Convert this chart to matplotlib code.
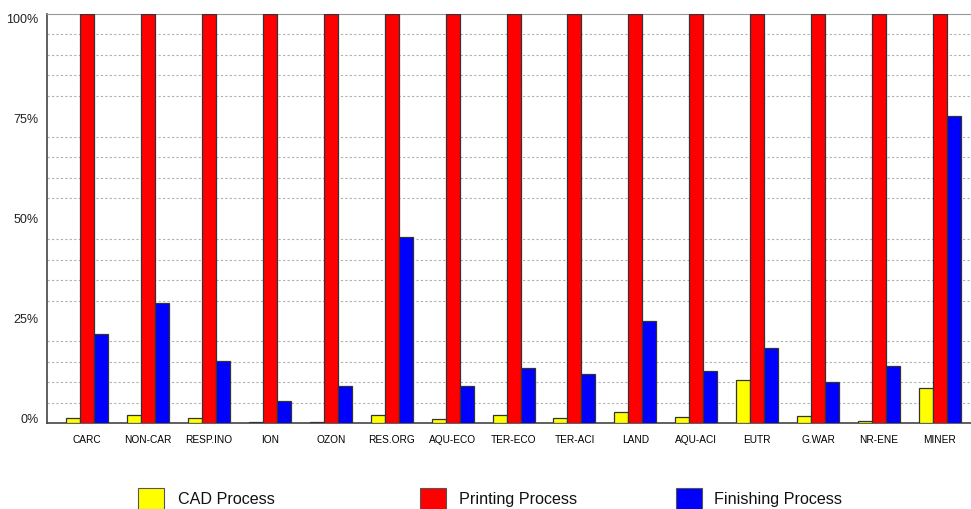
import matplotlib
matplotlib.use("Agg")
import matplotlib.pyplot as plt
from matplotlib.patches import Rectangle
from matplotlib.transforms import ScaledTranslation
import numpy as np

plt.rcParams['font.family'] = ['Liberation Sans', 'DejaVu Sans']

categories = ["CARC", "NON-CAR", "RESP.INO", "ION", "OZON", "RES.ORG", "AQU-ECO",
              "TER-ECO", "TER-ACI", "LAND", "AQU-ACI", "EUTR", "G.WAR", "NR-ENE", "MINER"]
cad = [1.2, 2.0, 1.2, 0.25, 0.3, 2.0, 1.05, 2.0, 1.4, 2.8, 1.5, 10.5, 1.7, 0.5, 8.6]
printing = [100] * 15
finishing = [21.8, 29.3, 15.1, 5.5, 9.2, 45.5, 9.2, 13.4, 12.1, 25.1, 12.9, 18.5, 10.2, 13.9, 75.1]
series_names = ["CAD Process", "Printing Process", "Finishing Process"]
colors = ["#ffff00", "#ff0000", "#0000ff"]
yticks = [0, 25, 50, 75, 100]
ytick_labels = ["0%", "25%", "50%", "75%", "100%"]

W, H = 971, 510
fig = plt.figure(figsize=(W / 100, H / 100), dpi=100)
left, right, top, bottom = 47, 971, 15, 424.3
ax = fig.add_axes([left / W, 1 - bottom / H, (right - left) / W, (bottom - top) / H])

x = np.arange(len(categories))
bw = 0.23
for i, (vals, c) in enumerate(zip([cad, printing, finishing], colors)):
    ax.bar(x + (i - 1) * bw, vals, width=bw, color=c, edgecolor="#333333",
           linewidth=0.9, zorder=3)

ax.set_xlim(-0.66, 14.51)
ax.set_ylim(0, 100)
ax.set_yticks(np.arange(0, 101, 5), minor=True)
ax.yaxis.grid(True, which="minor", linestyle=(0, (2, 2)), color="#b0b0b0", linewidth=0.8, zorder=0)
ax.set_yticks(yticks)
ax.set_yticklabels(ytick_labels, fontsize=9, color="#222222")
ax.tick_params(axis="y", which="both", length=0, pad=6)
# small vertical offsets of the labels as in the reference
for lbl, v in zip(ax.get_yticklabels(), yticks):
    dy = (6 - 0.1 * v) / 100.0
    lbl.set_transform(lbl.get_transform() + ScaledTranslation(0, dy, fig.dpi_scale_trans))
ax.set_xticks(x)
ax.set_xticklabels(categories, fontsize=7.3, color="#000000")
ax.tick_params(axis="x", length=0, pad=8)

ax.spines["left"].set_color("#444444")
ax.spines["bottom"].set_color("#444444")
ax.spines["top"].set_color("#999999")
ax.spines["right"].set_visible(False)
ax.spines["left"].set_linewidth(1.2)
ax.spines["bottom"].set_linewidth(1.2)

# legend
patch_x = [138, 420, 676]
text_x = [178, 459, 714]
for name, c, px, tx in zip(series_names, colors, patch_x, text_x):
    fig.patches.append(Rectangle((px / W, 0), 26 / W, (H - 489) / H, transform=fig.transFigure,
                                 facecolor=c, edgecolor="#555555", linewidth=0.8))
    fig.text(tx / W, 1 - 500 / H, name, fontsize=11.6, va="center", ha="left", color="#111111")

fig.savefig("out.png", dpi=100)
